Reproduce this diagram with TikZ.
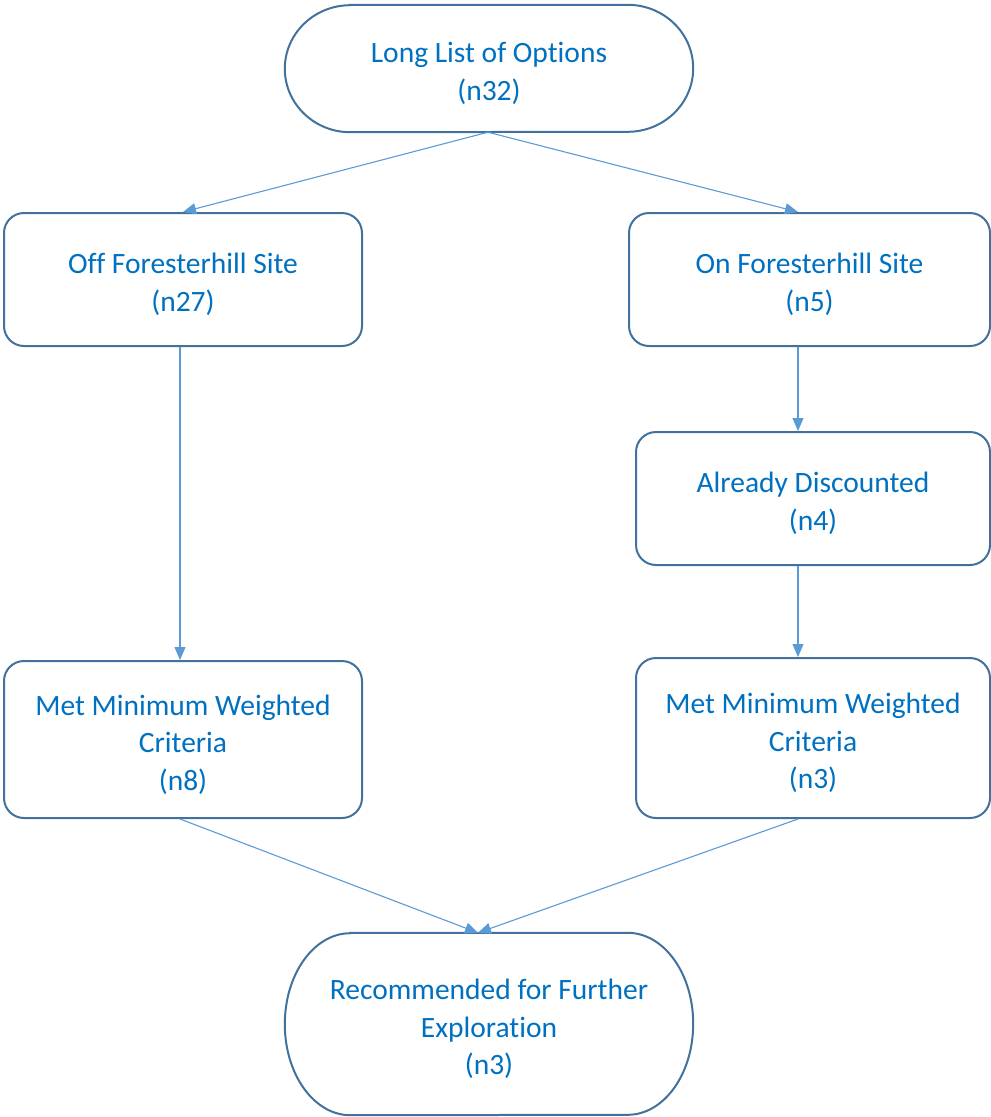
\documentclass[tikz,border=0pt]{standalone}
\usepackage{fontspec}
\setmainfont{Carlito}[Ligatures=NoCommon]
\usetikzlibrary{arrows.meta}
\definecolor{txtblue}{HTML}{0070C0}
\definecolor{edgeblue}{HTML}{41719C}
\definecolor{arrowblue}{HTML}{5B9BD5}
\tikzset{
  box/.style={draw=edgeblue, line width=2pt, rounded corners=20pt, inner sep=0pt},
  frame/.style={inner sep=0pt},
  txt/.style={text=txtblue, align=center, font=\fontsize{29.5}{37.5}\selectfont, inner sep=0pt, yshift=-5pt},
  termline/.style={draw=edgeblue, line width=2pt},
  conn/.style={draw=arrowblue, line width=1.1pt, -{Triangle[length=13pt,width=11pt]}}
}
\begin{document}
\begin{tikzpicture}[x=1pt,y=-1pt]
\useasboundingbox (0,0) rectangle (991,1117);
% top terminator
\node[frame, minimum width=408pt, minimum height=127pt] (top) at (489,68.5) {};
\draw[termline] ([xshift=65.5pt]top.north west) -- ([xshift=-65.5pt]top.north east)
  arc[start angle=90, end angle=-90, x radius=65.5pt, y radius=63.5pt]
  -- ([xshift=65.5pt]top.south west)
  arc[start angle=270, end angle=90, x radius=65.5pt, y radius=63.5pt] -- cycle;
\node[txt] (topt) at (top.center) {Long List of Options\\(n32)};
% boxes
\node[box, minimum width=358pt, minimum height=133pt] (off) at (183,279.5) {};
\node[txt] (offt) at (off.center) {Off Foresterhill Site\\(n27)};
\node[box, minimum width=361pt, minimum height=133pt] (on) at (809.5,279.5) {};
\node[txt] (ont) at (on.center) {On Foresterhill Site\\(n5)};
\node[box, minimum width=354pt, minimum height=133pt] (disc) at (813,498.5) {};
\node[txt] (disct) at (disc.center) {Already Discounted\\(n4)};
\node[box, minimum width=358pt, minimum height=157pt] (metl) at (183,739.5) {};
\node[txt] (metlt) at (metl.center) {Met Minimum Weighted\\Criteria\\(n8)};
\node[box, minimum width=354pt, minimum height=160pt] (metr) at (813,738) {};
\node[txt] (metrt) at (metr.center) {Met Minimum Weighted\\Criteria\\(n3)};
% bottom terminator
\node[frame, minimum width=408pt, minimum height=182pt] (bot) at (489,1024) {};
\draw[termline] ([xshift=65.5pt]bot.north west) -- ([xshift=-65.5pt]bot.north east)
  arc[start angle=90, end angle=-90, x radius=65.5pt, y radius=91pt]
  -- ([xshift=65.5pt]bot.south west)
  arc[start angle=270, end angle=90, x radius=65.5pt, y radius=91pt] -- cycle;
\node[txt] (bott) at (bot.center) {Recommended for Further\\Exploration\\(n3)};
% guide coordinates
\coordinate (lx) at (180,0);
\coordinate (rx) at (798,0);
\coordinate (bx) at (478,0);
\coordinate (tx) at (488,0);
% connectors
\draw[conn] (top.south -| tx) -- (off.north);
\draw[conn] (top.south -| tx) -- (on.north -| rx);
\draw[conn] (off.south -| lx) -- (metl.north -| lx);
\draw[conn] (on.south -| rx) -- (disc.north -| rx);
\draw[conn] (disc.south -| rx) -- (metr.north -| rx);
\draw[conn] (metl.south -| lx) -- (bot.north -| bx);
\draw[conn] (metr.south -| rx) -- (bot.north -| bx);
\end{tikzpicture}
\end{document}
